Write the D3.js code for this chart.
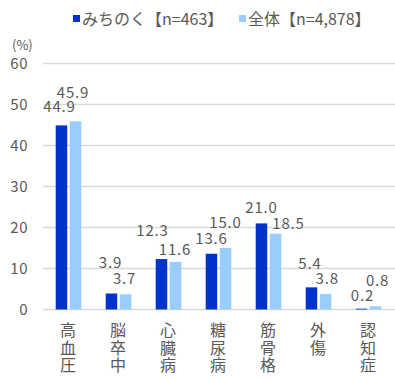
<!DOCTYPE html>
<html>
<head>
<meta charset="utf-8">
<script src="https://cdn.jsdelivr.net/npm/d3@7"></script>
<style>
  html, body { margin: 0; padding: 0; background: #ffffff; }
  svg { display: block; }
  text { font-family: "Noto Sans CJK JP", "Noto Sans", sans-serif; fill: #595959; }
  .vert { writing-mode: vertical-rl; text-orientation: upright; }
</style>
</head>
<body>
<svg id="chart" width="395" height="379"></svg>
<script>
// ---- data ----
const categories = ["高血圧", "脳卒中", "心臓病", "糖尿病", "筋骨格", "外傷", "認知症"];
const seriesNames = ["みちのく【n=463】", "全体【n=4,878】"];
const michinoku = [44.9, 3.9, 12.3, 13.6, 21.0, 5.4, 0.2];
const zentai = [45.9, 3.7, 11.6, 15.0, 18.5, 3.8, 0.8];
const yTicks = [0, 10, 20, 30, 40, 50, 60];

// ---- layout / style config ----
const colors = ["#0033cc", "#99ccff"];
// manual label nudges (dx from bar centre, rise of baseline above bar top), as in the original
const labelNudgeDark = [[-2, 13], [-1, 26], [-9, 23], [0, 10], [0, 10], [-1.5, 18], [1, 8]];
const labelNudgeLight = [[-2.5, 23], [-1, 10], [-0.5, 7], [0, 20], [13, 5], [1.7, 10], [2, 20]];

const svg = d3.select("#chart");

const x = d3.scaleBand().domain(categories).range([43, 393]).paddingInner(0).paddingOuter(0);
const y = d3.scaleLinear().domain([0, 60]).range([309.5, 63.5]);
const half = x.bandwidth() / 2;
const xs = d3.scaleBand().domain(seriesNames).range([half - 12.3, half + 13.3]).paddingInner(0.18);

// gridlines
svg.append("g").selectAll("line").data(yTicks).join("line")
  .attr("x1", 43).attr("x2", 395)
  .attr("y1", d => y(d)).attr("y2", d => y(d))
  .attr("stroke", "#d9d9d9").attr("stroke-width", 1.3);

// y axis tick labels
const yAxis = d3.axisLeft(y).tickValues(yTicks).tickSize(0).tickPadding(0).tickFormat(d3.format("d"));
const yg = svg.append("g").attr("transform", "translate(28,0)").call(yAxis);
yg.select(".domain").remove();
yg.selectAll("text")
  .attr("font-family", '"Noto Sans CJK JP", sans-serif')
  .attr("font-size", 15).attr("fill", "#595959").attr("letter-spacing", 0.5)
  .attr("dy", "0.35em");

// unit
svg.append("text").attr("x", 12).attr("y", 50).attr("font-size", 13).text("(%)");

// bars
const seriesData = [michinoku, zentai];
seriesData.forEach((vals, si) => {
  svg.append("g").selectAll("rect").data(vals).join("rect")
    .attr("x", (d, i) => x(categories[i]) + xs(seriesNames[si]))
    .attr("width", xs.bandwidth())
    .attr("y", d => y(d))
    .attr("height", d => y(0) - y(d))
    .attr("fill", colors[si]);
});

// value labels
seriesData.forEach((vals, si) => {
  const nudge = si === 0 ? labelNudgeDark : labelNudgeLight;
  svg.append("g").selectAll("text").data(vals).join("text")
    .attr("x", (d, i) => x(categories[i]) + xs(seriesNames[si]) + xs.bandwidth() / 2 + nudge[i][0])
    .attr("y", (d, i) => y(d) - nudge[i][1])
    .attr("text-anchor", "middle")
    .attr("font-size", 15).attr("letter-spacing", 0.8)
    .text(d => d.toFixed(1));
});

// x category labels (vertical text)
svg.append("g").selectAll("text").data(categories).join("text")
  .attr("class", "vert")
  .attr("x", d => x(d) + half)
  .attr("y", y(0) + 12.5)
  .attr("font-size", 16)
  .attr("letter-spacing", 1.7)
  .text(d => d);

// legend
const legendX = [73, 239];
seriesNames.forEach((name, si) => {
  svg.append("rect").attr("x", legendX[si]).attr("y", 15).attr("width", 7).attr("height", 7).attr("fill", colors[si]);
  svg.append("text").attr("x", legendX[si] + 9).attr("y", 25).attr("font-size", 16).text(name);
});
</script>
</body>
</html>
